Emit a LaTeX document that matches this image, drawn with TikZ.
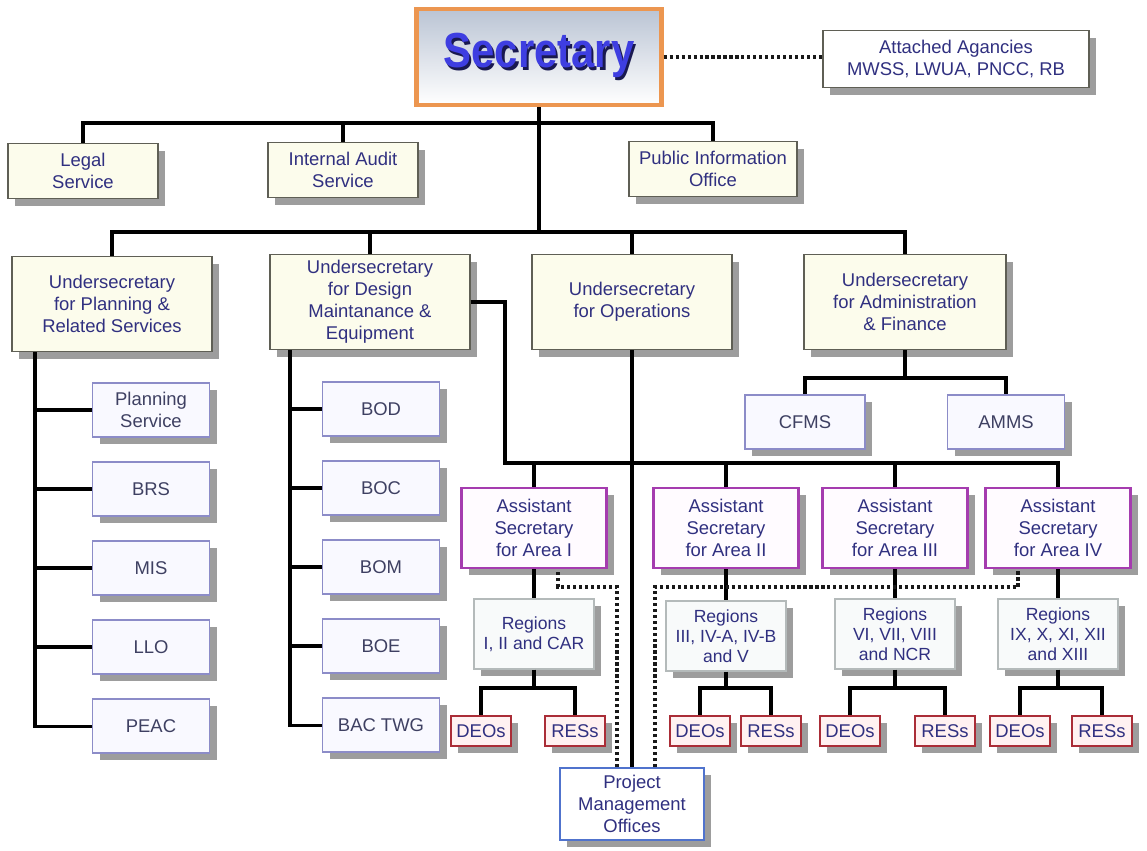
\documentclass[tikz,border=0pt]{standalone}
\usepackage{fontspec}
\setmainfont{Liberation Sans}
\usepackage{xcolor}
\usepackage{graphicx}
\usepackage{tikz}
\usetikzlibrary{positioning,shadows}

\definecolor{orgtext}{RGB}{48,48,128}
\definecolor{unittext}{RGB}{62,64,98}
\definecolor{secblue}{RGB}{62,62,225}
\definecolor{secshade}{RGB}{25,25,80}
\definecolor{secedge}{RGB}{236,150,80}
\definecolor{secfill}{RGB}{186,196,212}
\definecolor{creamfill}{RGB}{252,252,236}
\definecolor{boxedge}{RGB}{95,95,85}
\definecolor{unitedge}{RGB}{140,140,200}
\definecolor{unitfill}{RGB}{249,249,255}
\definecolor{asstedge}{RGB}{165,60,175}
\definecolor{asstfill}{RGB}{255,251,255}
\definecolor{regionedge}{RGB}{180,186,186}
\definecolor{regionfill}{RGB}{248,250,250}
\definecolor{fieldedge}{RGB}{170,45,55}
\definecolor{fieldfill}{RGB}{255,241,241}
\definecolor{pmoedge}{RGB}{80,115,205}

\newcommand{\shadowed}[1]{\makebox[0pt][l]{\hspace{1.5pt}\raisebox{-1.5pt}{\color{secshade}#1}}#1}

\begin{document}
\begin{tikzpicture}[x=0.02cm, y=-0.02cm, node distance=0.47cm,
  every node/.style={font=\fontsize{10.5}{12.5}\selectfont, text=orgtext, align=center}]
  % Styles
  \tikzstyle{orgline}=[line width=2pt, black]
  \tikzstyle{dotline}=[dash pattern=on 1.8pt off 1.6pt, line width=2pt, black!90]
  \tikzstyle{boxshadow}=[drop shadow={shadow xshift=4pt, shadow yshift=-4pt, fill=black!70, opacity=0.55}]
  \tikzstyle{secbox}=[rectangle, draw=secedge, line width=2.5pt, top color=secfill, bottom color=white, minimum width=4.9cm, minimum height=1.92cm, text=secblue, font=\bfseries\fontsize{28}{30}\selectfont]
  \tikzstyle{staff}=[rectangle, draw=boxedge, line width=0.8pt, fill=creamfill, minimum width=3cm, minimum height=1.1cm, boxshadow]
  \tikzstyle{usec}=[rectangle, draw=boxedge, line width=0.8pt, fill=creamfill, minimum width=4cm, minimum height=1.9cm, inner sep=2pt, boxshadow]
  \tikzstyle{unit}=[rectangle, draw=unitedge, line width=0.9pt, fill=unitfill, minimum width=2.34cm, minimum height=1.08cm, text=unittext, boxshadow]
  \tikzstyle{asst}=[rectangle, draw=asstedge, line width=1.5pt, fill=asstfill, minimum width=2.9cm, minimum height=1.6cm, inner sep=2pt, boxshadow]
  \tikzstyle{region}=[rectangle, draw=regionedge, line width=0.8pt, fill=regionfill, minimum width=2.4cm, minimum height=1.4cm, inner sep=1pt, font=\fontsize{10}{11.3}\selectfont, boxshadow]
  \tikzstyle{field}=[rectangle, draw=fieldedge, line width=1.2pt, fill=fieldfill, minimum width=1.2cm, minimum height=0.6cm, inner sep=1pt, boxshadow]
  \tikzstyle{pmobox}=[rectangle, draw=pmoedge, line width=1pt, fill=white, minimum width=2.88cm, minimum height=1.44cm, inner sep=1pt, boxshadow]

  \useasboundingbox (0,0) rectangle (1147,851);

  % Top
  \node[secbox] (sec) at (539,57) {\scalebox{0.85}[1]{\shadowed{Secretary}}};
  \node[staff, fill=white, minimum width=5.32cm, minimum height=1.14cm] (agency) at (956,59) {Attached Agancies\\MWSS, LWUA, PNCC, RB};

  % Staff offices
  \node[staff] (legal) at (83,171) {Legal\\Service};
  \node[staff] (audit) at (343,170) {Internal Audit\\Service};
  \node[staff, minimum width=3.36cm] (pio) at (713,169) {Public Information\\Office};

  % Undersecretaries
  \node[usec] (usplan) at (112,304) {Undersecretary\\for Planning \&\\Related Services};
  \node[usec] (usdesign) at (370,302) {Undersecretary\\for Design\\Maintanance \&\\Equipment};
  \node[usec] (usops) at (632,302) {Undersecretary\\for Operations};
  \node[usec, minimum width=4.04cm] (usadmin) at (905,302) {Undersecretary\\for Administration\\\& Finance};

  % Planning column
  \node[unit] (plansvc) at (151,410) {Planning\\Service};
  \node[unit, below=of plansvc] (brs) {BRS};
  \node[unit, below=of brs] (mis) {MIS};
  \node[unit, below=of mis] (llo) {LLO};
  \node[unit, below=of llo] (peac) {PEAC};

  % Design column
  \node[unit] (bod) at (381,409) {BOD};
  \node[unit, below=of bod] (boc) {BOC};
  \node[unit, below=of boc] (bom) {BOM};
  \node[unit, below=of bom] (boe) {BOE};
  \node[unit, below=of boe] (bactwg) {BAC TWG};

  % Administration units
  \node[unit, minimum width=2.4cm] (cfms) at (805,422) {CFMS};
  \node[unit] (amms) at (1006,422) {AMMS};

  % Assistant secretaries
  \node[asst] (area1) at (534,528) {Assistant\\Secretary\\for Area I};
  \node[asst] (area2) at (726,528) {Assistant\\Secretary\\for Area II};
  \node[asst] (area3) at (895,528) {Assistant\\Secretary\\for Area III};
  \node[asst] (area4) at (1058,528) {Assistant\\Secretary\\for Area IV};

  % Regions
  \node[region] (reg1) at (534,634) {Regions\\I, II and CAR};
  \node[region] (reg2) at (726,636) {Regions\\III, IV-A, IV-B\\and V};
  \node[region] (reg3) at (895,634) {Regions\\VI, VII, VIII\\and NCR};
  \node[region] (reg4) at (1058,634) {Regions\\IX, X, XI, XII\\and XIII};

  % Field offices
  \node[field] (deo1) at (481,731) {DEOs};
  \node[field] (res1) at (575,731) {RESs};
  \node[field] (deo2) at (700,731) {DEOs};
  \node[field] (res2) at (771,731) {RESs};
  \node[field] (deo3) at (850,731) {DEOs};
  \node[field] (res3) at (945,731) {RESs};
  \node[field] (deo4) at (1020,731) {DEOs};
  \node[field] (res4) at (1102,731) {RESs};

  \node[pmobox] (pmo) at (632,804) {Project\\Management\\Offices};

  % Secretary tree
  \coordinate (staffbar) at (539,123);
  \coordinate (usbar) at (539,232);
  \draw[dotline] (sec.east) -- (sec.east -| agency.west);
  \draw[orgline] (sec.south) -- (usbar);
  \draw[orgline] (legal.north) |- (staffbar) -| (pio.north);
  \draw[orgline] (audit.north) -- (audit.north |- staffbar);
  \draw[orgline] (usplan.north) |- (usbar) -| (usadmin.north);
  \draw[orgline] (usdesign.north) -- (usdesign.north |- usbar);
  \draw[orgline] (usops.north) -- (usops.north |- usbar);

  % Columns
  \coordinate (planspine) at (usplan.south -| 35,0);
  \coordinate (designspine) at (usdesign.south -| 290,0);
  \draw[orgline] (planspine) |- (peac.west);
  \foreach \n in {plansvc,brs,mis,llo} \draw[orgline] (planspine |- \n.west) -- (\n.west);
  \draw[orgline] (designspine) |- (bactwg.west);
  \foreach \n in {bod,boc,bom,boe} \draw[orgline] (designspine |- \n.west) -- (\n.west);

  % Assistant secretaries
  \coordinate (asstbar) at (505,463);
  \draw[orgline] (usdesign.east) -| (asstbar) -| (area4.north);
  \foreach \n in {area1,area2,area3} \draw[orgline] (asstbar -| \n.north) -- (\n.north);
  \draw[orgline] (usops) -- (pmo);

  % Administration
  \coordinate (adminfork) at (905,378);
  \draw[orgline] (usadmin) -- (adminfork);
  \draw[orgline] (cfms.north) |- (adminfork) -| (amms.north);

  % Regions and field offices
  \foreach \i in {1,...,4} {
    \draw[orgline] (area\i) -- (reg\i);
    \draw[orgline] (reg\i) -- (reg\i |- 0,688);
    \draw[orgline] (deo\i.north) |- (reg\i |- 0,688) -| (res\i.north);
  }

  % Project management links
  \draw[dotline] (pmo.north -| 617,0) |- (558,587) -- (area1.south -| 558,0);
  \draw[dotline] (pmo.north -| 655,0) |- (1018,587) -- (area4.south -| 1018,0);
\end{tikzpicture}
\end{document}
